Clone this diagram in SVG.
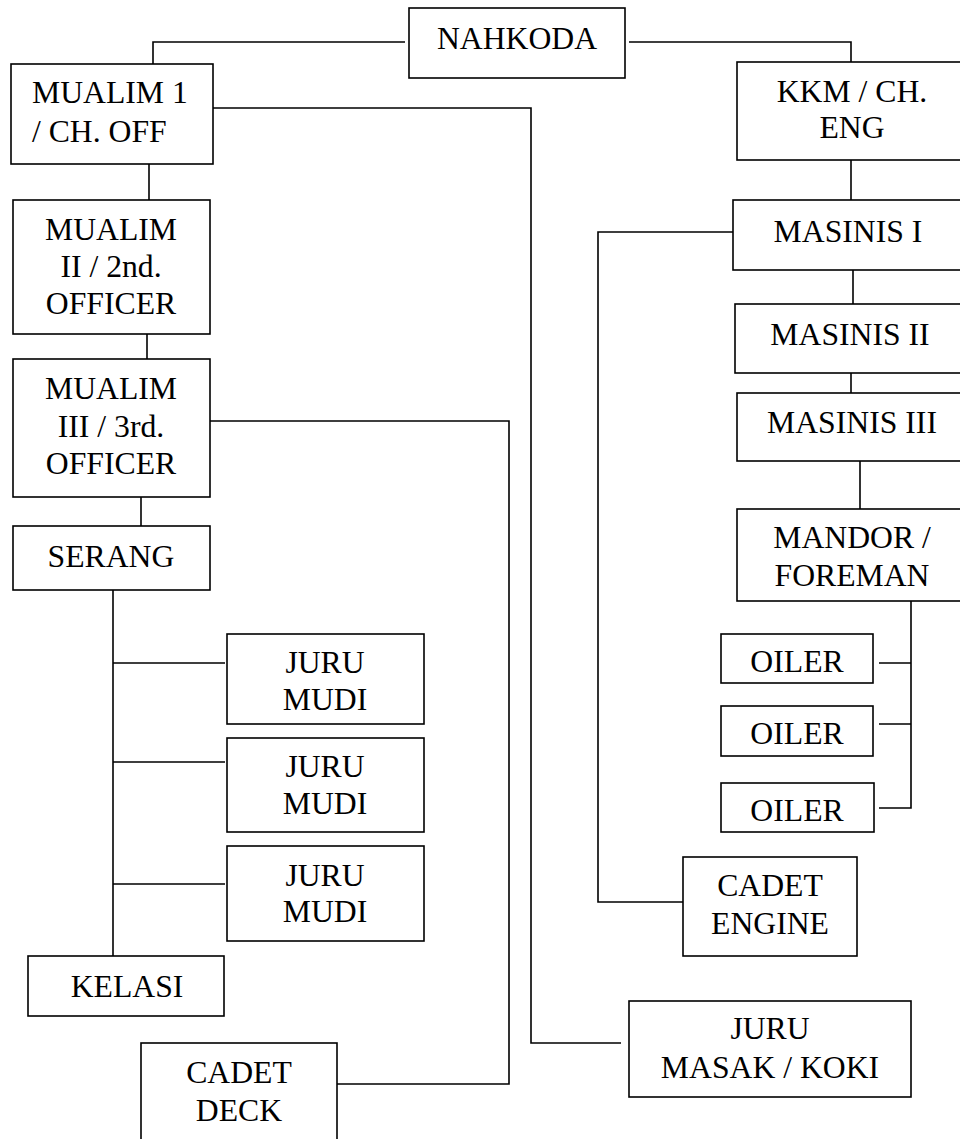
<svg xmlns="http://www.w3.org/2000/svg" width="960" height="1139" viewBox="0 0 960 1139">
<style>
rect{fill:#fff;stroke:#000;stroke-width:1.6}
.c path{fill:none;stroke:#000;stroke-width:1.6}
text{font-size:31.7px;fill:#000;text-anchor:middle}
</style>
<rect x="0" y="0" width="960" height="1139" style="stroke:none"/>
<g class="c" id="connectors">
<path d="M405,42H153V69"/>
<path d="M629,42H851V62"/>
<path d="M213,108H531V1043H621"/>
<path d="M149,157V200"/>
<path d="M147,322V359"/>
<path d="M207,421H509V1084H337"/>
<path d="M141,492V526"/>
<path d="M113,590V956"/>
<path d="M113,663H225M113,762H225M113,884H225"/>
<path d="M851,155V200"/>
<path d="M737,232H598V902H683"/>
<path d="M853,270V304"/>
<path d="M851,368V393"/>
<path d="M860,461V509"/>
<path d="M911,601V808H879M879,663H911M879,724H911"/>
</g>
<g font-family="'Liberation Serif', 'Times New Roman', Tinos, 'DejaVu Serif', serif">
<g id="nahkoda"><rect x="409" y="8" width="216" height="70"/><text x="517" y="49">NAHKODA</text></g>
<g id="mualim1"><rect x="11" y="64" width="202" height="100"/><text x="32" y="103" style="text-anchor:start">MUALIM 1</text><text x="32" y="142" style="text-anchor:start">/ CH. OFF</text></g>
<g id="mualim2"><rect x="13" y="200" width="197" height="134"/><text x="111" y="240">MUALIM</text><text x="111" y="277">II / 2nd.</text><text x="111" y="314">OFFICER</text></g>
<g id="mualim3"><rect x="13" y="359" width="197" height="138"/><text x="111" y="399">MUALIM</text><text x="111" y="437">III / 3rd.</text><text x="111" y="474">OFFICER</text></g>
<g id="serang"><rect x="13" y="526" width="197" height="64"/><text x="111" y="567">SERANG</text></g>
<g id="jurumudi1"><rect x="227" y="634" width="197" height="90"/><text x="325" y="673">JURU</text><text x="325" y="710">MUDI</text></g>
<g id="jurumudi2"><rect x="227" y="738" width="197" height="94"/><text x="325" y="777">JURU</text><text x="325" y="814">MUDI</text></g>
<g id="jurumudi3"><rect x="227" y="846" width="197" height="95"/><text x="325" y="886">JURU</text><text x="325" y="922">MUDI</text></g>
<g id="kelasi"><rect x="28" y="956" width="196" height="60"/><text x="127" y="997">KELASI</text></g>
<g id="cadetdeck"><rect x="141" y="1043" width="196" height="110"/><text x="239" y="1083">CADET</text><text x="239" y="1121">DECK</text></g>
<g id="kkm"><rect x="737" y="62" width="230" height="98"/><text x="852" y="102">KKM / CH.</text><text x="852" y="138">ENG</text></g>
<g id="masinis1"><rect x="733" y="200" width="234" height="70"/><text x="848" y="242">MASINIS I</text></g>
<g id="masinis2"><rect x="735" y="304" width="232" height="69"/><text x="850" y="345">MASINIS II</text></g>
<g id="masinis3"><rect x="737" y="393" width="230" height="68"/><text x="852" y="433">MASINIS III</text></g>
<g id="mandor"><rect x="737" y="509" width="230" height="92"/><text x="852" y="548">MANDOR /</text><text x="852" y="586">FOREMAN</text></g>
<g id="oiler1"><rect x="721" y="634" width="152" height="49"/><text x="797" y="672">OILER</text></g>
<g id="oiler2"><rect x="721" y="706" width="152" height="50"/><text x="797" y="744">OILER</text></g>
<g id="oiler3"><rect x="721" y="783" width="153" height="49"/><text x="797" y="821">OILER</text></g>
<g id="cadetengine"><rect x="683" y="857" width="174" height="99"/><text x="770" y="896">CADET</text><text x="770" y="934">ENGINE</text></g>
<g id="jurumasak"><rect x="629" y="1001" width="282" height="96"/><text x="770" y="1039">JURU</text><text x="770" y="1078">MASAK / KOKI</text></g>
</g>
</svg>
